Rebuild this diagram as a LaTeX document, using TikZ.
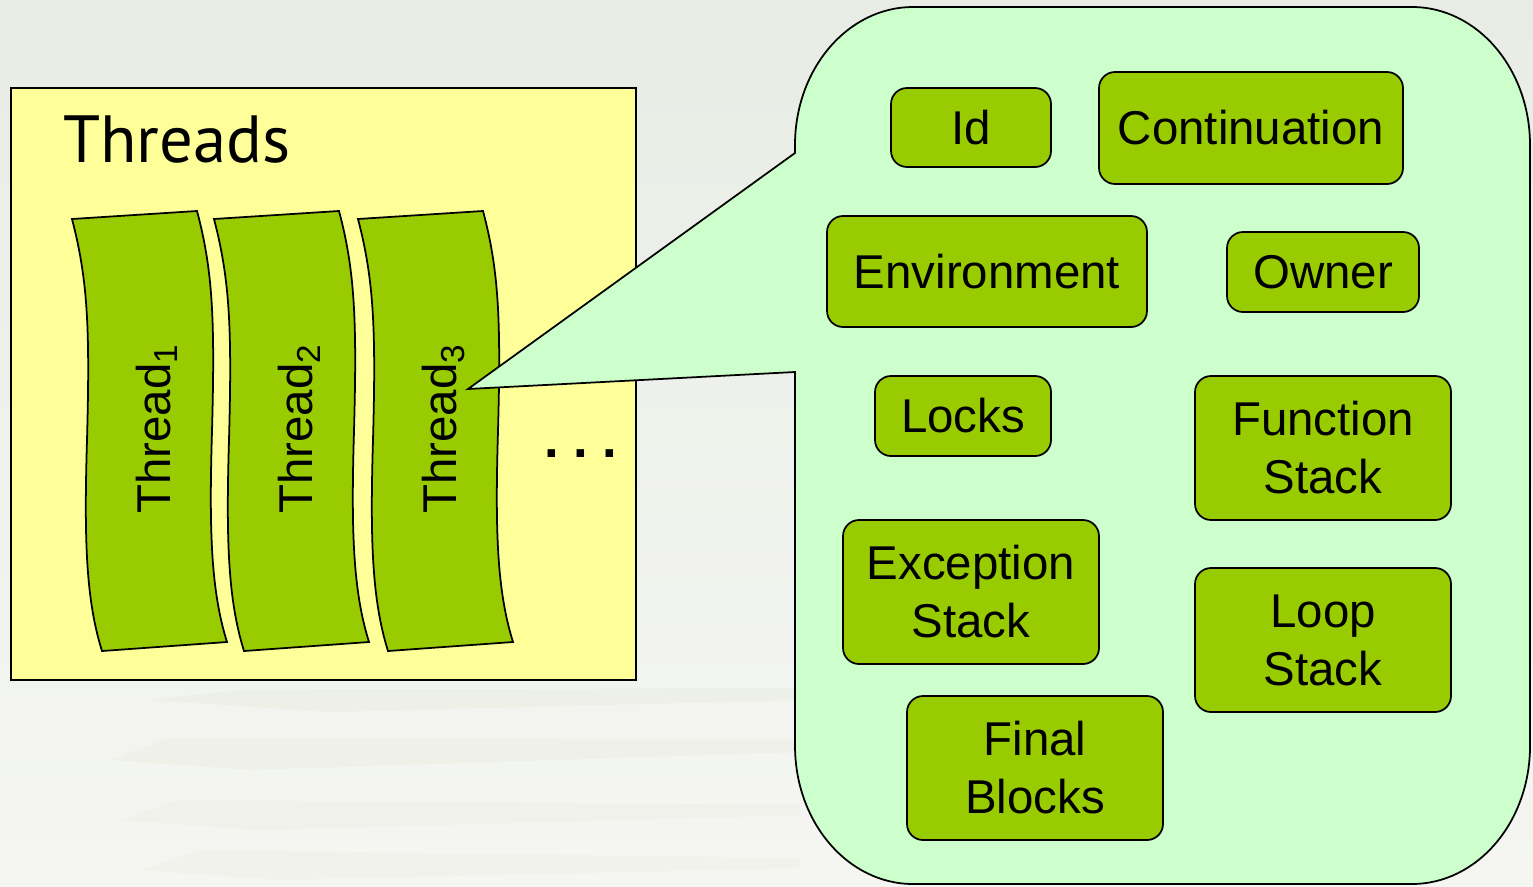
\documentclass[tikz,border=0pt]{standalone}
\usepackage{fontspec}
\setmainfont{Liberation Sans}
\newfontfamily\titlefont{PT Sans}
\definecolor{bgtop}{HTML}{E9ECE5}
\definecolor{bgbot}{HTML}{F5F6F2}
\definecolor{paper}{HTML}{E6E9DC}
\definecolor{yel}{HTML}{FFFF99}
\definecolor{lime}{HTML}{99CC00}
\definecolor{mint}{HTML}{CCFFCC}
\begin{document}
\begin{tikzpicture}[x=0.02cm,y=-0.02cm,
  outline/.style={draw=black, line width=1pt},
  item/.style={outline, fill=lime, rounded corners=0.32cm, inner sep=0pt, align=center,
    font=\fontsize{27}{33}\selectfont},
  tlabel/.style={rotate=90, anchor=base west, inner sep=0pt, font=\fontsize{27}{33}\selectfont}]
\useasboundingbox (0,0) rectangle (1533,886);
\shade[top color=bgtop, bottom color=bgbot] (0,0) rectangle (1533,886);
% faint paper stack in the background
\fill[paper, opacity=0.35] (150,700) -- (240,690) -- (800,688) -- (800,700) -- (330,712) -- cycle;
\fill[paper, opacity=0.3] (110,760) -- (170,738) -- (800,740) -- (800,752) -- (250,770) -- cycle;
\fill[paper, opacity=0.3] (120,820) -- (180,800) -- (800,805) -- (800,815) -- (260,830) -- cycle;
\fill[paper, opacity=0.25] (140,870) -- (200,850) -- (800,858) -- (800,868) -- (280,880) -- cycle;

% threads container
\node[outline, fill=yel, minimum width=12.5cm, minimum height=11.84cm, inner sep=0pt,
  anchor=north west] (frame) at (10,87) {};
\node[anchor=base west, inner sep=0pt, font=\titlefont\fontsize{38}{44}\selectfont] (title) at (63,162) {Threads};

\foreach \dx/\n in {0/1,142/2,286/3}{
  \draw[outline, fill=lime] (\dx+72,219) .. controls (\dx+88,280) and (\dx+90,330) .. (\dx+87,440)
     .. controls (\dx+84,540) and (\dx+86,600) .. (\dx+102,651) -- (\dx+227,642)
     .. controls (\dx+211,591) and (\dx+209,531) .. (\dx+212,431)
     .. controls (\dx+215,321) and (\dx+213,271) .. (\dx+197,211) -- cycle;
  \node[tlabel] (t\n) at (\dx+170,514) {Thread\textsubscript{\n}};
}
\node[anchor=base, inner sep=0pt, font=\bfseries\fontsize{30}{36}\selectfont] (dots) at (581,457) {.\ .\ .};

% callout
\draw[outline, fill=mint] (795,153) -- (795,145)
  arc[start angle=180, end angle=90, x radius=2.36cm, y radius=2.76cm] -- (1412,7)
  arc[start angle=90, end angle=0, x radius=2.36cm, y radius=2.76cm] -- (1530,746)
  arc[start angle=0, end angle=-90, x radius=2.36cm, y radius=2.76cm] -- (913,884)
  arc[start angle=-90, end angle=-180, x radius=2.36cm, y radius=2.76cm] -- (795,372)
  -- (468,389) -- cycle;

\node[item, minimum width=3.2cm, minimum height=1.58cm] (id) at (971,127.5) {Id};
\node[item, minimum width=6.08cm, minimum height=2.24cm] (cont) at (1251,128) {Continuation};
\node[item, minimum width=6.4cm, minimum height=2.22cm] (env) at (987,271.5) {Environment};
\node[item, minimum width=3.84cm, minimum height=1.6cm] (owner) at (1323,272) {Owner};
\node[item, minimum width=3.52cm, minimum height=1.6cm] (locks) at (963,416) {Locks};
\node[item, minimum width=5.12cm, minimum height=2.88cm] (func) at (1323,448) {Function\\Stack};
\node[item, minimum width=5.12cm, minimum height=2.88cm] (exc) at (971,592) {Exception\\Stack};
\node[item, minimum width=5.12cm, minimum height=2.88cm] (loop) at (1323,640) {Loop\\Stack};
\node[item, minimum width=5.12cm, minimum height=2.88cm] (final) at (1035,768) {Final\\Blocks};
\end{tikzpicture}
\end{document}
